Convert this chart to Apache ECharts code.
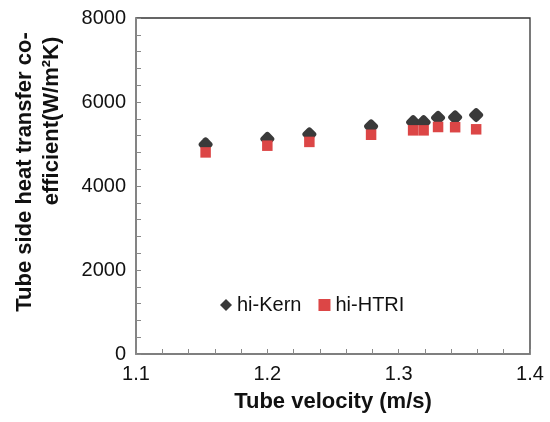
<!DOCTYPE html>
<html>
<head>
<meta charset="utf-8">
<script src="https://cdn.jsdelivr.net/npm/echarts@6/dist/echarts.min.js"></script>
<style>
html, body { margin: 0; padding: 0; background: #fff; }
#main { width: 550px; height: 422px; }
</style>
</head>
<body>
<div id="main"></div>
<script>
// tube velocity (m/s)
var velocity = [1.153, 1.200, 1.232, 1.279, 1.311, 1.319, 1.330, 1.343, 1.359];
// hi-Kern
var kernData = [4990, 5120, 5230, 5420, 5520, 5520, 5625, 5635, 5690];
// hi-HTRI
var htriData = [4800, 4960, 5050, 5220, 5325, 5325, 5405, 5400, 5350];

var kernPoints = [];
var htriPoints = [];
for (var i = 0; i < velocity.length; i++) {
	kernPoints.push([velocity[i], kernData[i]]);
	htriPoints.push([velocity[i], htriData[i]]);
}

var myChart = echarts.init(document.getElementById('main'));

var fontFam = '"Liberation Sans", Arial, sans-serif';

var option = {
	animation: false,
	backgroundColor: '#fff',
	textStyle: { fontFamily: fontFam },
	grid: {
		left: 136, right: 20, top: 18, bottom: 68,
		show: true, borderColor: '#333', borderWidth: 1.3
	},
	legend: {
		left: 215, top: 290,
		itemWidth: 12, itemHeight: 12, itemGap: 17,
		textStyle: { fontSize: 20, color: '#111', fontFamily: fontFam },
		data: [
			{ name: 'hi-Kern', icon: 'diamond' },
			{ name: 'hi-HTRI', icon: 'rect' }
		]
	},
	xAxis: {
		type: 'value', min: 1.1, max: 1.4, interval: 0.02,
		axisLine: { lineStyle: { color: '#888', width: 1.5 } },
		axisTick: { inside: true, length: 5, lineStyle: { color: '#888' } },
		splitLine: { show: false },
		axisLabel: {
			fontSize: 20, color: '#111', margin: 10,
			formatter: function (v) {
				if (Math.abs(v * 10 - Math.round(v * 10)) < 1e-6) return v.toFixed(1);
				return '';
			}
		}
	},
	yAxis: {
		type: 'value', min: 0, max: 8000, interval: 400,
		axisLine: { show: true, lineStyle: { color: '#888', width: 1.5 } },
		axisTick: { show: true, inside: true, length: 5, lineStyle: { color: '#888' } },
		splitLine: { show: false },
		axisLabel: {
			fontSize: 20, color: '#111', margin: 10,
			formatter: function (v) {
				return v % 2000 === 0 ? String(v) : '';
			}
		}
	},
	graphic: [
		{
			type: 'text', x: 25, y: 172, rotation: Math.PI / 2,
			style: {
				text: 'Tube side heat transfer co-', fill: '#111',
				font: 'bold 22px ' + fontFam, textAlign: 'center', textVerticalAlign: 'middle'
			}
		},
		{
			type: 'text', x: 52, y: 121, rotation: Math.PI / 2,
			style: {
				text: 'efficient(W/m²K)', fill: '#111',
				font: 'bold 22px ' + fontFam, textAlign: 'center', textVerticalAlign: 'middle'
			}
		},
		{
			type: 'text', x: 333, y: 402,
			style: {
				text: 'Tube velocity (m/s)', fill: '#111',
				font: 'bold 22px ' + fontFam, textAlign: 'center', textVerticalAlign: 'middle'
			}
		}
	],
	series: [
		{
			name: 'hi-Kern', type: 'scatter', symbol: 'roundRect', symbolSize: 11.5, symbolRotate: 45,
			itemStyle: { color: '#3a3a3a', opacity: 1 },
			data: kernPoints
		},
		{
			name: 'hi-HTRI', type: 'scatter', symbol: 'rect', symbolSize: 10.5,
			itemStyle: { color: '#dc4646', opacity: 1 },
			data: htriPoints
		}
	]
};

myChart.setOption(option);
</script>
</body>
</html>
